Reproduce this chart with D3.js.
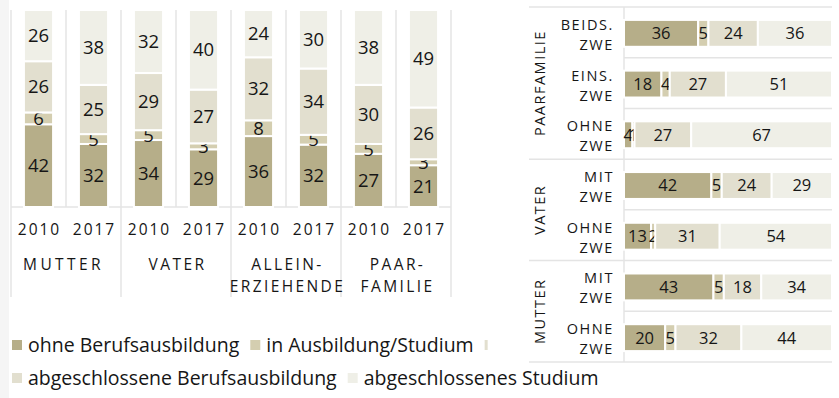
<!DOCTYPE html>
<html>
<head>
<meta charset="utf-8">
<script src="https://cdn.jsdelivr.net/npm/d3@7"></script>
<style>
  html, body { margin: 0; padding: 0; background: #ffffff; }
  svg { display: block; font-family: "Open Sans", "Noto Sans", sans-serif; }
  text { fill: #161616; }
</style>
</head>
<body>
<svg id="chart" width="839" height="398"></svg>
<script>
// ---- data -------------------------------------------------------------
const seriesNames = ["ohne Berufsausbildung", "in Ausbildung/Studium",
                     "abgeschlossene Berufsausbildung", "abgeschlossenes Studium"];
const seriesColors = ["#b6ae89", "#d4ceb0", "#e2dfcf", "#efefe7"];

// left panel: four household types, 2010 and 2017
const leftGroups = ["MUTTER", "VATER", "ALLEIN-|ERZIEHENDE", "PAAR-|FAMILIE"];
const years = ["2010", "2017"];
const leftOhne     = [42, 32, 34, 29, 36, 32, 27, 21];
const leftInAusb   = [6, 5, 5, 3, 8, 5, 5, 3];
const leftBerufs   = [26, 25, 29, 27, 32, 34, 30, 26];
const leftStudium  = [26, 38, 32, 40, 24, 30, 38, 49];

// right panel: rows grouped by household type
const rightGroups = ["PAARFAMILIE", "VATER", "MUTTER"];
const rightRows = ["BEIDS.|ZWE", "EINS.|ZWE", "OHNE|ZWE", "MIT|ZWE", "OHNE|ZWE", "MIT|ZWE", "OHNE|ZWE"];
const rightRowGroup = [0, 0, 0, 1, 1, 2, 2];
const rightOhne    = [36, 18, 4, 42, 13, 43, 20];
const rightInAusb  = [5, 4, 1, 5, 2, 5, 5];
const rightBerufs  = [24, 27, 27, 24, 31, 18, 32];
const rightStudium = [36, 51, 67, 29, 54, 34, 44];

// ---- setup ------------------------------------------------------------
const svg = d3.select("#chart");
const gridColor = "#e4e4e4";
const keys = ["k0", "k1", "k2", "k3"];
const stack = d3.stack().keys(keys).offset(d3.stackOffsetExpand);

// page edge strip
svg.append("rect").attr("x", 0).attr("y", 0).attr("width", 9).attr("height", 398).attr("fill", "#f5f5f5");

// ---- left panel: vertical 100% stacked columns -------------------------
const leftRows = leftOhne.map((v, i) => ({
  id: i, group: Math.floor(i / 2), year: years[i % 2],
  k0: v, k1: leftInAusb[i], k2: leftBerufs[i], k3: leftStudium[i]
}));
const lx = d3.scaleBand().domain(leftRows.map(d => d.id)).range([11, 451])
  .paddingInner(0.47).paddingOuter(0.235);
const ly = d3.scaleLinear().domain([0, 1]).range([207, 10]);
const left = svg.append("g");

// vertical separators
const step = lx.step();
d3.range(9).forEach(i => {
  const x = 11 + i * step;
  left.append("line").attr("x1", x).attr("x2", x)
    .attr("y1", 10).attr("y2", i % 2 === 0 ? 297 : 207)
    .attr("stroke", gridColor).attr("stroke-width", 1.5);
});
left.append("line").attr("x1", 11).attr("x2", 451).attr("y1", 207).attr("y2", 207)
  .attr("stroke", gridColor).attr("stroke-width", 1.5);

const leftStack = stack(leftRows);
leftStack.forEach((layer, si) => {
  const g = left.append("g");
  g.selectAll("rect").data(layer).join("rect")
    .attr("x", d => lx(d.data.id))
    .attr("width", lx.bandwidth())
    .attr("y", d => ly(d[1]))
    .attr("height", d => ly(d[0]) - ly(d[1]))
    .attr("fill", seriesColors[si])
    .attr("stroke", "#fff").attr("stroke-width", 2);
  g.selectAll("text").data(layer).join("text")
    .attr("x", d => lx(d.data.id) + lx.bandwidth() / 2)
    .attr("y", d => (ly(d[0]) + ly(d[1])) / 2)
    .attr("dy", "0.36em")
    .attr("text-anchor", "middle")
    .style("font-size", "18.5px")
    .text(d => d.data[keys[si]]);
});

// year labels
left.selectAll("text.year").data(leftRows).join("text")
  .attr("class", "year")
  .attr("x", d => lx(d.id) + lx.bandwidth() / 2 + 1)
  .attr("y", 235)
  .attr("text-anchor", "middle")
  .style("font-size", "15.5px").style("letter-spacing", "2px")
  .text(d => d.year);

// group labels
leftGroups.forEach((name, gi) => {
  const cx = 11 + step * (gi * 2 + 1) + 1.5 - (gi === 0 ? 4 : 0);
  const t = left.append("text").attr("text-anchor", "middle")
    .style("font-size", "15.5px").style("letter-spacing", gi === 0 ? "3.4px" : "2.4px");
  name.split("|").forEach((line, li) => {
    t.append("tspan").attr("x", cx).attr("y", 270 + li * 22).text(line);
  });
});

// ---- right panel: horizontal 100% stacked bars --------------------------
const rightData = rightOhne.map((v, i) => ({
  id: i, k0: v, k1: rightInAusb[i], k2: rightBerufs[i], k3: rightStudium[i]
}));
const ry = d3.scaleBand().domain(rightData.map(d => d.id)).range([7, 362])
  .paddingInner(0.47).paddingOuter(0.235);
const rx = d3.scaleLinear().domain([0, 1]).range([624, 832]);
const right = svg.append("g");
const rstep = ry.step();

// row separators: full width at group borders, plot width inside a group
d3.range(8).forEach(i => {
  const y = 7 + i * rstep;
  const isGroupEdge = i === 0 || i === 7 || rightRowGroup[i] !== rightRowGroup[i - 1];
  right.append("line").attr("x1", isGroupEdge ? 529 : 624).attr("x2", 832)
    .attr("y1", y).attr("y2", y)
    .attr("stroke", gridColor).attr("stroke-width", 1.5);
});
right.append("line").attr("x1", 624).attr("x2", 624).attr("y1", 7).attr("y2", 362)
  .attr("stroke", gridColor).attr("stroke-width", 1.5);

const rightStack = stack(rightData);
rightStack.forEach((layer, si) => {
  const g = right.append("g");
  g.selectAll("rect").data(layer).join("rect")
    .attr("y", d => ry(d.data.id) + 1)
    .attr("height", ry.bandwidth())
    .attr("x", d => rx(d[0]))
    .attr("width", d => rx(d[1]) - rx(d[0]))
    .attr("fill", seriesColors[si])
    .attr("stroke", "#fff").attr("stroke-width", 2);
  g.selectAll("text").data(layer).join("text")
    .attr("x", d => (rx(d[0]) + rx(d[1])) / 2)
    .attr("y", d => ry(d.data.id) + 1 + ry.bandwidth() / 2)
    .attr("dy", "0.36em")
    .attr("text-anchor", "middle")
    .style("font-size", "16.5px")
    .text(d => d.data[keys[si]]);
});

// row labels (two lines each)
rightRows.forEach((name, i) => {
  const rc = ry(i) + ry.bandwidth() / 2 + 1;
  const t = right.append("text").attr("text-anchor", "end")
    .style("font-size", "14.5px").style("letter-spacing", "1.6px");
  name.split("|").forEach((line, li) => {
    t.append("tspan").attr("x", 614).attr("y", rc - 3.5 + li * 20).text(line);
  });
});

// rotated group labels
rightGroups.forEach((name, gi) => {
  const rows = rightRowGroup.map((g, i) => g === gi ? i : -1).filter(i => i >= 0);
  const y0 = 7 + rows[0] * rstep;
  const y1 = 7 + (rows[rows.length - 1] + 1) * rstep;
  right.append("text")
    .attr("transform", `translate(545,${(y0 + y1) / 2}) rotate(-90)`)
    .attr("text-anchor", "middle")
    .style("font-size", "14.5px").style("letter-spacing", "1.5px")
    .text(name);
});

// ---- legend -----------------------------------------------------------
// items flow left to right; the first row is cut at the panel edge, so only
// a sliver of the next swatch remains visible there
const legend = svg.append("g");
const clipRect = svg.append("defs").append("clipPath").attr("id", "legendRow1")
  .append("rect").attr("x", 0).attr("y", 320).attr("width", 492).attr("height", 40);

function legendRow(items, y, clip) {
  const row = legend.append("g");
  if (clip) row.attr("clip-path", "url(#legendRow1)");
  let x = 12;
  const starts = [];
  items.forEach(si => {
    starts.push(x);
    row.append("rect").attr("x", x).attr("y", y - 5).attr("width", 10).attr("height", 10)
      .attr("fill", seriesColors[si]);
    const t = row.append("text").attr("x", x + 16).attr("y", y).attr("dy", "0.35em")
      .style("font-size", "19.5px").text(seriesNames[si]);
    x += 16 + t.node().getComputedTextLength() + 11;
  });
  return starts;
}
const row1Starts = legendRow([0, 1, 2], 345, true);
clipRect.attr("width", row1Starts[2] + 3);
legendRow([2, 3], 378, false);
</script>
</body>
</html>
